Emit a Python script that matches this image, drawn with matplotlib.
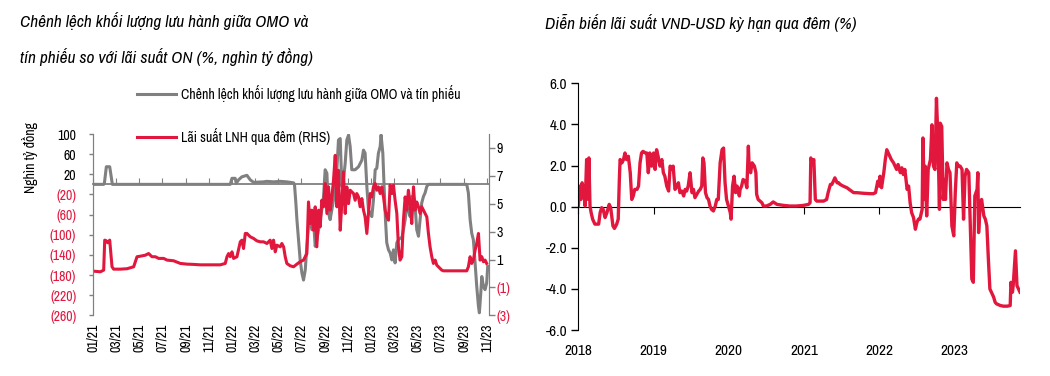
import matplotlib
matplotlib.use("Agg")
import matplotlib.pyplot as plt
from matplotlib.ticker import FuncFormatter

plt.rcParams['font.family'] = ['Archivo Narrow', 'Liberation Sans', 'DejaVu Sans']

RED = '#e2173d'
GRAY = '#808080'

# left chart: months since 01/2021
omo_month = [0, 0.92, 0.98, 1.15, 1.44, 1.67, 11.85, 12.0, 12.28, 12.37, 12.57, 12.86, 13.29, 13.58,
             13.87, 14.73, 15.02, 15.59, 16.17, 16.74, 17.32, 17.40, 17.52, 17.61, 17.75, 17.89, 18.04,
             18.18, 18.33, 18.47, 18.61, 18.76, 18.90, 19.04, 19.19, 19.33, 19.48, 19.62, 19.76, 19.91,
             20.05, 20.20, 20.34, 20.48, 20.63, 20.77, 20.92, 21.06, 21.20, 21.35, 21.49, 21.63, 21.78,
             21.92, 22.07, 22.21, 22.35, 22.64, 22.93, 23.22, 23.36, 23.50, 23.65, 23.79, 23.94, 24.08,
             24.22, 24.37, 24.51, 24.65, 24.80, 24.88, 25.03, 25.14, 25.26, 25.37, 25.52, 25.66, 25.81,
             25.95, 26.09, 26.24, 26.38, 26.52, 26.67, 26.81, 26.96, 27.10, 27.24, 27.39, 27.53, 27.68,
             27.82, 27.96, 28.11, 28.25, 28.39, 28.54, 28.68, 28.83, 28.97, 32.28, 32.42, 32.57, 32.71,
             32.85, 33.00, 33.14, 33.29, 33.37, 33.49, 33.58, 33.72, 33.86, 34.00, 34.09]
omo_gap = [0, 0, 2, 35, 35, 0, 0, 12, 12, 2, 9, 15, 18, 9,
           4, 5, 6, 5, 6, 5, 3, 0, -37, -70, -110, -150, -176,
           -190, -170, -123, -83, -70, -90, -70, -123, -110, -90, -70, -50, -24,
           29, 22, -57, -70, -50, -31, -4, 29, 88, 91, -4, 9, 42,
           88, 98, 75, 29, 29, 35, 48, 68, 62, -4, -51, -57, -64,
           -31, 29, 32, 62, 75, 98, 62, -4, -70, -116, -130, -136, -150,
           -130, -156, -116, -110, -107, -107, -90, -70, -44, -50, -64, -24, -24,
           -44, -90, -103, -70, -37, -24, -17, -4, 0, 0, -17, -70, -97,
           -110, -156, -202, -242, -255, -216, -183, -203, -209, -196, -163]

lnh_month = [0, 0.63, 0.92, 1.01, 1.15, 1.27, 1.44, 1.64, 1.78, 2.36, 2.93, 3.51, 3.80, 4.09, 4.52,
             4.80, 5.09, 5.38, 5.67, 6.10, 6.39, 6.96, 7.54, 8.11, 8.69, 9.26, 9.84, 10.41, 10.99, 11.42,
             11.57, 11.71, 11.85, 12.00, 12.14, 12.43, 12.72, 12.86, 13.00, 13.15, 13.29, 13.58, 13.87,
             14.15, 14.44, 14.73, 15.02, 15.30, 15.45, 15.59, 15.74, 15.88, 16.17, 16.31, 16.46, 16.60,
             16.74, 17.03, 17.32, 17.61, 17.89, 18.18, 18.33, 18.47, 18.61, 18.76, 18.90, 19.04, 19.19,
             19.33, 19.48, 19.62, 19.76, 19.91, 20.05, 20.20, 20.34, 20.48, 20.63, 20.77, 20.92, 21.06,
             21.20, 21.35, 21.49, 21.63, 21.78, 21.92, 22.07, 22.21, 22.50, 22.64, 22.78, 22.93, 23.07,
             23.22, 23.36, 23.50, 23.65, 23.79, 23.94, 24.08, 24.22, 24.37, 24.51, 24.65, 24.80, 24.94,
             25.09, 25.23, 25.37, 25.52, 25.66, 25.81, 25.95, 26.09, 26.24, 26.38, 26.52, 26.67, 26.81,
             26.96, 27.10, 27.24, 27.39, 27.53, 27.68, 27.82, 27.96, 28.11, 28.25, 28.39, 28.54, 28.68,
             28.83, 28.97, 29.11, 29.26, 29.40, 29.55, 29.69, 29.83, 29.98, 30.12, 30.27, 30.84, 31.70,
             32.28, 32.42, 32.57, 32.71, 32.85, 33.00, 33.14, 33.29, 33.43, 33.58, 33.72, 33.86, 34.00]
lnh_rate = [0.17, 0.12, 0.24, 2.39, 2.34, 2.20, 2.39, 0.48, 0.31, 0.31, 0.34, 0.48, 1.20, 1.24, 1.31,
            1.43, 1.20, 1.20, 1.08, 1.08, 0.96, 0.91, 0.72, 0.67, 0.65, 0.62, 0.62, 0.62, 0.62, 0.72,
            1.20, 1.43, 1.20, 1.55, 1.08, 1.20, 2.27, 2.39, 1.79, 2.87, 2.87, 2.63, 2.51,
            2.34, 2.27, 2.27, 2.15, 2.39, 1.79, 2.39, 1.55, 2.03, 1.91, 2.15, 1.91, 1.20,
            0.72, 0.55, 0.48, 0.67, 0.84, 0.96, 1.20, 1.43, 5.13, 3.58, 4.54, 3.10, 4.78,
            1.91, 4.54, 3.34, 5.25, 4.78, 6.45, 4.30, 6.21, 4.54, 5.49, 6.68, 8.47, 4.78,
            7.40, 3.10, 5.01, 7.28, 4.30, 6.21, 5.01, 5.97, 5.73, 5.25, 5.73, 5.49, 4.78,
            5.37, 4.54, 4.06, 2.87, 4.30, 5.73, 5.49, 6.21, 6.45, 5.97, 6.21, 5.73, 6.21,
            5.49, 4.54, 4.06, 3.82, 6.33, 5.73, 6.33, 5.25, 4.30, 1.91, 0.96, 1.20, 3.82,
            5.49, 4.54, 5.97, 5.01, 3.58, 6.21, 4.54, 5.13, 4.78, 4.30, 4.78, 4.54, 4.30,
            4.06, 2.87, 1.91, 1.20, 0.72, 0.96, 0.60, 0.48, 0.36, 0.24, 0.19, 0.19, 0.19,
            0.19, 0.48, 1.20, 0.72, 0.96, 1.67, 2.15, 2.87, 0.96, 1.20, 0.84, 0.96, 0.72]

# right chart: decimal year
vnd_usd_year = [2018.00, 2018.02, 2018.035, 2018.05, 2018.07, 2018.08, 2018.09, 2018.11, 2018.13, 2018.14,
                2018.155, 2018.17, 2018.19, 2018.22, 2018.27, 2018.29, 2018.31, 2018.33, 2018.355, 2018.38,
                2018.41, 2018.43, 2018.46, 2018.48, 2018.51, 2018.53, 2018.545, 2018.555, 2018.58, 2018.60,
                2018.62, 2018.64, 2018.665, 2018.69, 2018.71, 2018.73, 2018.75, 2018.78, 2018.80, 2018.82,
                2018.84, 2018.86, 2018.89, 2018.91, 2018.93, 2018.95, 2018.975, 2019.00, 2019.02, 2019.04,
                2019.06, 2019.085, 2019.11, 2019.13, 2019.15, 2019.175, 2019.20, 2019.22, 2019.24, 2019.26,
                2019.285, 2019.31, 2019.33, 2019.35, 2019.375, 2019.40, 2019.42, 2019.44, 2019.46, 2019.485,
                2019.51, 2019.53, 2019.55, 2019.575, 2019.60, 2019.62, 2019.64, 2019.655, 2019.67, 2019.69,
                2019.71, 2019.73, 2019.75, 2019.77, 2019.795, 2019.82, 2019.84, 2019.86, 2019.885, 2019.91,
                2019.93, 2019.95, 2019.97, 2019.995, 2020.02, 2020.03, 2020.05, 2020.07, 2020.09, 2020.11,
                2020.14, 2020.15, 2020.17, 2020.19, 2020.22, 2020.24, 2020.26, 2020.27, 2020.29, 2020.31,
                2020.34, 2020.36, 2020.37, 2020.39, 2020.44, 2020.46, 2020.50, 2020.55, 2020.59, 2020.64,
                2020.73, 2020.81, 2020.90, 2020.99, 2021.06, 2021.08, 2021.09, 2021.11, 2021.13, 2021.15,
                2021.17, 2021.21, 2021.26, 2021.30, 2021.32, 2021.35, 2021.37, 2021.39, 2021.41, 2021.44,
                2021.46, 2021.48, 2021.52, 2021.57, 2021.61, 2021.66, 2021.70, 2021.79, 2021.88, 2021.92,
                2021.95, 2021.98, 2022.00, 2022.01, 2022.03, 2022.06, 2022.08, 2022.10, 2022.12, 2022.14,
                2022.16, 2022.19, 2022.21, 2022.23, 2022.25, 2022.28, 2022.30, 2022.32, 2022.34, 2022.37,
                2022.39, 2022.41, 2022.43, 2022.455, 2022.48, 2022.50, 2022.52, 2022.54, 2022.57, 2022.58,
                2022.60, 2022.61, 2022.63, 2022.65, 2022.68, 2022.70, 2022.72, 2022.74, 2022.76, 2022.78,
                2022.80, 2022.81, 2022.83, 2022.85, 2022.87, 2022.88, 2022.90, 2022.92, 2022.94, 2022.965,
                2022.99, 2023.01, 2023.03, 2023.05, 2023.075, 2023.10, 2023.12, 2023.14, 2023.16, 2023.19,
                2023.21, 2023.23, 2023.25, 2023.27, 2023.30, 2023.31, 2023.32, 2023.34, 2023.36, 2023.39,
                2023.41, 2023.43, 2023.45, 2023.47, 2023.50, 2023.52, 2023.54, 2023.56, 2023.61, 2023.65,
                2023.70, 2023.74, 2023.75, 2023.77, 2023.78, 2023.81, 2023.83, 2023.85, 2023.87]
vnd_usd_rate = [0.03, 1.0, 0.35, 1.16, 0.52, 1.0, 0.03, 2.29, 0.35, 2.37,
                0.03, -0.29, -0.61, -0.85, -0.85, -0.29, -0.05, -0.13, -0.53, -0.29,
                0.11, -0.05, -0.94, -1.06, -0.85, -0.61, 1.32, 2.29, 2.13, 2.29,
                2.61, 2.29, 2.45, 1.65, 0.35, 0.52, 0.84, 0.84, 1.0, 2.13,
                2.61, 2.69, 2.61, 2.61, 1.65, 2.61, 1.97, 2.61, 1.81, 2.77,
                2.45, 1.97, 2.29, 1.65, 1.48, 1.0, 0.76, 1.97, 1.81, 1.97,
                0.84, 1.0, 1.16, 0.68, 0.76, 0.52, 0.84, 0.76, 1.0, 1.65,
                0.68, 0.84, 0.44, 0.6, 0.76, 0.84, 1.0, 2.37, 2.13, 0.68,
                0.44, 0.35, 0.03, -0.13, -0.21, 0.03, 0.35, 0.35, 2.13, 2.77,
                2.85, 1.16, 0.35, 0.03, -0.29, -0.61, 1.0, 1.48, 0.68, 1.0,
                0.52, 0.84, 1.0, 1.32, 1.24, 0.92, 2.94, 1.97, 1.65, 2.13,
                1.97, 1.65, 0.6, 0.35, 0.19, 0.03, 0.03, 0.11, 0.23, 0.11,
                0.06, 0.03, 0.03, 0.06, 0.11, 0.19, 2.37, 2.13, 2.29, 0.35,
                0.27, 0.27, 0.27, 0.35, 0.68, 1.08, 1.08, 1.24, 1.4, 1.16,
                1.16, 1.08, 1.0, 0.92, 0.81, 0.68, 0.68, 0.65, 0.63, 0.63,
                0.68, 1.24, 1.0, 1.48, 0.92, 1.65, 2.29, 2.77, 2.61, 2.45,
                2.29, 2.13, 1.97, 1.81, 2.05, 1.65, 1.89, 1.56, 1.81, 0.84,
                1.0, 0.19, -0.29, -0.53, -1.1, -0.77, -0.61, -0.61, -0.13, 3.34,
                0.35, 1.97, -0.45, 1.81, 2.29, 3.98, 1.97, 1.81, 5.27, 3.26,
                -0.13, 4.06, 3.9, 0.35, 1.32, 0.35, 2.13, 1.81, 1.65, -0.94,
                -1.42, 0.68, 2.13, 1.97, 1.97, 1.81, -0.61, 1.48, 1.81, 1.65,
                -0.94, -3.52, -3.68, 0.52, 0.84, 1.65, -1.26, 0.03, 0.35, -0.45,
                -0.61, -0.94, -2.55, -4.0, -4.24, -4.4, -4.65, -4.73, -4.81, -4.84,
                -4.84, -4.81, -3.68, -4.16, -3.84, -2.15, -3.84, -4.0, -4.16]

left_ticks = [100, 60, 20, -20, -60, -100, -140, -180, -220, -260]
rhs_ticks = [9, 7, 5, 3, 1, -1, -3]
month_ticks = list(range(0, 35, 2))
year_ticks = [2018, 2019, 2020, 2021, 2022, 2023]
right_ticks = [6, 4, 2, 0, -2, -4, -6]


def paren(v, pos=None):
    v = int(round(v))
    return f"({abs(v)})" if v < 0 else f"{v}"


def month_label(m):
    return f"{m % 12 + 1:02d}/{21 + m // 12}"


fig = plt.figure(figsize=(10.5, 3.76), dpi=100)

# ---------- left chart ----------
ax = fig.add_axes([0.0886, 0.1614, 0.3771, 0.4822])
ax2 = ax.twinx()
l1, = ax.plot(omo_month, omo_gap, color=GRAY, lw=2.2,
              label='Chênh lệch khối lượng lưu hành giữa OMO và tín phiếu')
l2, = ax2.plot(lnh_month, lnh_rate, color=RED, lw=2.2, label='Lãi suất LNH qua đêm (RHS)')

ax.set_xlim(0, 34.2)
ax.set_ylim(-260, 100)
ax2.set_ylim(-3, 10)
ax.set_yticks(left_ticks)
ax.yaxis.set_major_formatter(FuncFormatter(paren))
ax2.set_yticks(rhs_ticks)
ax2.yaxis.set_major_formatter(FuncFormatter(paren))

for a in (ax, ax2):
    a.spines['top'].set_visible(False)
    a.spines['bottom'].set_visible(False)
    a.spines['left'].set_color(GRAY)
    a.spines['right'].set_color(GRAY)
ax.tick_params(axis='y', colors=GRAY, length=3, width=1, labelsize=10, pad=9)
ax2.tick_params(axis='y', colors=GRAY, length=4, width=1, labelsize=10, pad=1.5)
for lab, v in zip(ax.get_yticklabels(), left_ticks):
    lab.set_color(RED if v < 0 else 'black')
for lab, v in zip(ax2.get_yticklabels(), rhs_ticks):
    lab.set_color(RED if v < 0 else 'black')

ax.set_xticks(month_ticks)
ax.set_xticklabels([month_label(m) for m in month_ticks], rotation=90)
ax.tick_params(axis='x', length=0, labelsize=10, pad=6)

zero_ax = ax.secondary_xaxis(260 / 360)
zero_ax.set_xticks(month_ticks)
zero_ax.set_xticklabels([])
zero_ax.tick_params(axis='x', direction='out', length=4, colors=GRAY)
for sp in zero_ax.spines.values():
    sp.set_color(GRAY)
    sp.set_linewidth(1.3)

fig.text(0.029, 0.58, 'Nghìn tỷ đồng', rotation=90, ha='center', va='center', fontsize=10)
fig.legend(handles=[l1, l2], loc='upper left', bbox_to_anchor=(0.1305, 0.775), frameon=False,
           fontsize=10, handlelength=2.8, handletextpad=0.35, labelspacing=1.9,
           borderpad=0, borderaxespad=0)

fig.text(0.019, 0.945, 'Chênh lệch khối lượng lưu hành giữa OMO và', style='italic', fontsize=12.5,
         va='center')
fig.text(0.019, 0.848, 'tín phiếu so với lãi suất ON (%, nghìn tỷ đồng)', style='italic', fontsize=12.5,
         va='center')

# ---------- right chart ----------
bx = fig.add_axes([0.5508, 0.1223, 0.4206, 0.6562])
bx.plot(vnd_usd_year, vnd_usd_rate, color=RED, lw=2.4)
bx.set_xlim(2018, 2023.87)
bx.set_ylim(-6, 6)
bx.set_yticks(right_ticks)
bx.yaxis.set_major_formatter(FuncFormatter(lambda v, p: f"{v:.1f}"))
bx.tick_params(axis='y', length=5, width=1, labelsize=11, pad=3)
bx.set_xticks(year_ticks)
bx.set_xticklabels([str(y) for y in year_ticks])
bx.tick_params(axis='x', length=0, labelsize=11, pad=10)
for s in ('top', 'right', 'bottom'):
    bx.spines[s].set_visible(False)

bzero = bx.secondary_xaxis(0.5)
bzero.set_xticks(year_ticks)
bzero.set_xticklabels([])
bzero.tick_params(axis='x', direction='in', length=5)

fig.text(0.519, 0.94, 'Diễn biến lãi suất VND-USD kỳ hạn qua đêm (%)', style='italic', fontsize=12.5,
         va='center')

fig.savefig('out.png', dpi=100)
